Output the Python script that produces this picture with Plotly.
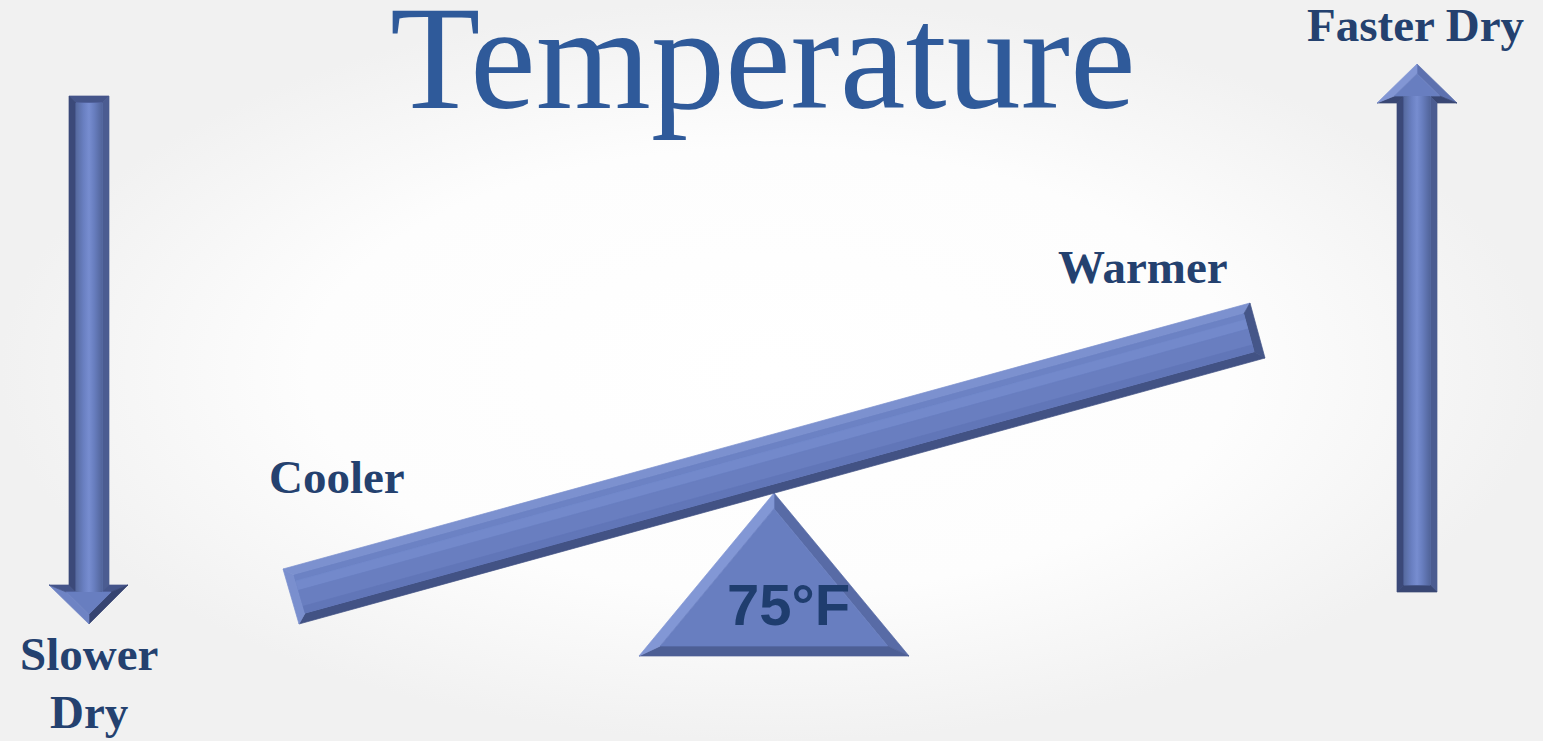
import numpy as np
import plotly.graph_objects as go

W, H = 1543, 741

# ---------------- content ----------------
TITLE = "Temperature"
LABELS = ["Faster Dry", "Warmer", "Cooler", "Slower", "Dry"]
PIVOT_TEXT = "75°F"

# label anchor points (centre x, text baseline y) in picture pixels
LABEL_X = [1416, 1143, 337, 89, 89]
LABEL_BASE = [41, 283, 493, 670, 728]

# outlines (picture pixels, y downward)
beam_x = [283, 1250, 1265, 299]
beam_y = [569, 303, 358, 624]
fulcrum_x = [774, 909, 639]
fulcrum_y = [493, 656, 656]
down_arrow_x = [69, 109, 109, 128, 89, 49, 69]
down_arrow_y = [96, 96, 585, 585, 624, 585, 585]
up_arrow_x = [1417, 1457, 1437, 1437, 1397, 1397, 1377]
up_arrow_y = [64, 103, 103, 592, 592, 103, 103]

# ---------------- styling ----------------
DARK = (44, 56, 96)
MID = (104, 126, 192)
LIGHT = (142, 162, 222)
LDIR = np.array([-0.85, -0.53])
LDIR = LDIR / np.linalg.norm(LDIR)
TITLE_COLOR = "#2f5a9a"
LABEL_COLOR = "#24416f"
PIVOT_COLOR = "#1f3d6e"


def lerp(c1, c2, t):
    return tuple(c1[i] + (c2[i] - c1[i]) * t for i in range(3))


def rgb(c):
    return "rgb(%d,%d,%d)" % tuple(int(round(v)) for v in c)


def shade(n):
    t = float(np.dot(n, LDIR))
    if t >= 0:
        return rgb(lerp(MID, LIGHT, t * 0.7))
    return rgb(lerp(MID, DARK, -t * 0.85))


def arrow_shade(n):
    if abs(n[0]) > 0.95:
        return "#3b4979" if n[0] < 0 else "#4b5c91"
    if n[1] < -0.95:
        return "#45558a"
    if n[1] > 0.95:
        return "#394774"
    return shade(n)


fig = go.Figure()


def poly(xs, ys, color, gradient=None):
    xs = list(xs) + [xs[0]]
    ys = list(ys) + [ys[0]]
    kw = dict(x=xs, y=ys, mode="lines", fill="toself",
              hoverinfo="skip", showlegend=False)
    if gradient is not None:
        kw["fillgradient"] = gradient
        kw["line"] = dict(width=0)
    else:
        kw["fillcolor"] = color
        kw["line"] = dict(width=0.7, color=color)
    fig.add_trace(go.Scatter(**kw))


def inset(xs, ys, d):
    P = np.column_stack([xs, ys]).astype(float)
    n = len(P)
    area = 0.0
    for i in range(n):
        j = (i + 1) % n
        area += P[i, 0] * P[j, 1] - P[j, 0] * P[i, 1]
    s = 1.0 if area > 0 else -1.0
    E, N = [], []
    for i in range(n):
        e = P[(i + 1) % n] - P[i]
        e = e / np.linalg.norm(e)
        E.append(e)
        N.append(s * np.array([e[1], -e[0]]))
    Q = []
    for i in range(n):
        k = (i - 1) % n
        p1 = P[k] - d * N[k]
        p2 = P[i] - d * N[i]
        A = np.array([[E[k][0], -E[i][0]], [E[k][1], -E[i][1]]])
        t, u = np.linalg.solve(A, p2 - p1)
        Q.append(p1 + t * E[k])
    return P, np.array(Q), N


def bevel_shape(xs, ys, d, face, shade_fn):
    P, Q, N = inset(xs, ys, d)
    n = len(P)
    for i in range(n):
        j = (i + 1) % n
        poly([P[i, 0], P[j, 0], Q[j, 0], Q[i, 0]],
             [P[i, 1], P[j, 1], Q[j, 1], Q[i, 1]], shade_fn(N[i]))
    poly(Q[:, 0], Q[:, 1], face)
    return Q


# ---------------- background ----------------
poly([0, W, W, 0], [0, 0, H, H], "#ffffff",
     gradient=dict(type="radial",
                   colorscale=[[0, "#ffffff"], [0.6, "#fdfdfd"], [1, "#f1f1f1"]]))

# ---------------- arrows ----------------
shaft_grad = dict(type="horizontal",
                  colorscale=[[0, "#566a9f"], [0.3, "#6a80c2"], [0.5, "#778dd0"],
                              [0.7, "#687ebf"], [1, "#52659b"]])

qd = bevel_shape(down_arrow_x, down_arrow_y, 7, rgb(MID), arrow_shade)
poly([qd[0, 0], qd[1, 0], qd[2, 0], qd[6, 0]],
     [qd[0, 1], qd[1, 1], qd[2, 1], qd[6, 1]], None, gradient=shaft_grad)

qu = bevel_shape(up_arrow_x, up_arrow_y, 7, rgb(MID), arrow_shade)
poly([qu[5, 0], qu[2, 0], qu[3, 0], qu[4, 0]],
     [qu[5, 1], qu[2, 1], qu[3, 1], qu[4, 1]], None, gradient=shaft_grad)

# ---------------- fulcrum ----------------
bevel_shape(fulcrum_x, fulcrum_y, 10, "rgb(104,126,192)", shade)

# ---------------- beam ----------------
qb = bevel_shape(beam_x, beam_y, 9, "rgb(105,126,192)", shade)
TL, TR, BR, BL = qb[0], qb[1], qb[2], qb[3]
bands = [(0.0, 0.15, (108, 130, 196)), (0.15, 0.4, (115, 137, 203)),
         (0.4, 0.82, (105, 126, 192)), (0.82, 1.0, (97, 118, 184))]
for f0, f1, c in bands:
    a0 = TL + (BL - TL) * f0
    b0 = TR + (BR - TR) * f0
    a1 = TL + (BL - TL) * f1
    b1 = TR + (BR - TR) * f1
    poly([a0[0], b0[0], b1[0], a1[0]], [a0[1], b0[1], b1[1], a1[1]], rgb(c))

# ---------------- text ----------------
SERIF = "Liberation Serif"
title_size = 148
fig.add_annotation(x=763, y=108 - 0.3375 * title_size, text=TITLE, showarrow=False,
                   font=dict(family=SERIF, size=title_size, color=TITLE_COLOR))

label_size = 47
for lab, lx, lb in zip(LABELS, LABEL_X, LABEL_BASE):
    fig.add_annotation(x=lx, y=lb - 0.3375 * label_size, text=lab, showarrow=False,
                       font=dict(family=SERIF, size=label_size, color=LABEL_COLOR,
                                 weight="bold"))

pivot_size = 58
fig.add_annotation(x=788, y=625 - 0.3465 * pivot_size, text=PIVOT_TEXT, showarrow=False,
                   font=dict(family="Liberation Sans", size=pivot_size, color=PIVOT_COLOR,
                             weight="bold"))

fig.update_layout(
    width=W, height=H,
    margin=dict(l=0, r=0, t=0, b=0),
    paper_bgcolor="#ffffff", plot_bgcolor="#ffffff",
    showlegend=False,
    xaxis=dict(range=[0, W], visible=False, fixedrange=True),
    yaxis=dict(range=[H, 0], visible=False, fixedrange=True),
)

fig.write_html("out.html", config={"displayModeBar": False})
